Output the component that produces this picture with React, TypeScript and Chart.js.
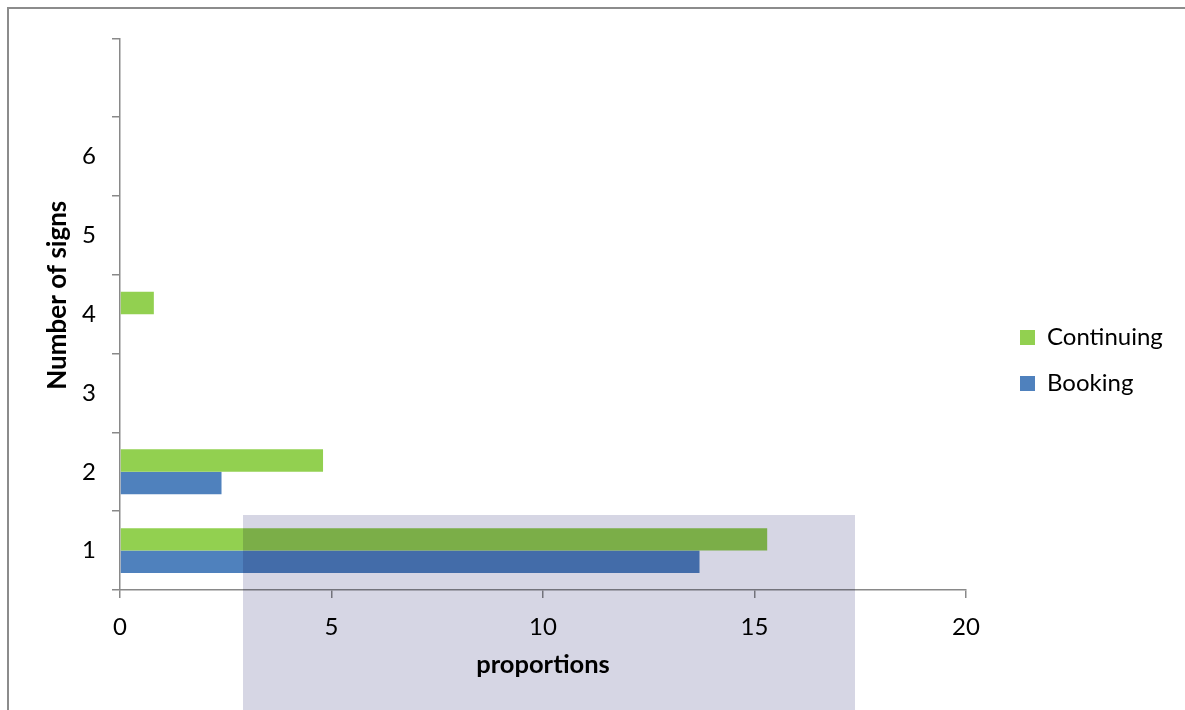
import React, { useEffect, useRef } from "react";
import { Chart, registerables } from "chart.js";

Chart.register(...registerables);

const categories = ["1", "2", "3", "4", "5", "6", ""];
const continuingValues = [15.3, 4.8, 0, 0.8, 0, 0, 0];
const bookingValues = [13.7, 2.4, 0, 0, 0, 0, 0];
const seriesNames = ["Continuing", "Booking"];
const xTickMin = 0;
const xTickMax = 20;
const xTickStep = 5;
const xTitle = "proportions";
const yTitle = "Number of signs";

const FONT = "Lato, 'Noto Sans', sans-serif";

const legendShift = {
  id: "legendShift",
  afterLayout(chart: any) {
    const lg = chart.legend;
    if (!lg) return;
    lg.left += 32;
    lg.right += 32;
    lg.top += 3;
    lg.bottom += 3;
  },
};

export default function App() {
  const canvasRef = useRef<HTMLCanvasElement | null>(null);

  useEffect(() => {
    if (!canvasRef.current) return;
    const chart = new Chart(canvasRef.current, {
      type: "bar",
      plugins: [legendShift],
      data: {
        labels: categories,
        datasets: [
          {
            label: seriesNames[0],
            data: continuingValues,
            backgroundColor: "#92D050",
            borderWidth: 0,
            categoryPercentage: 0.57,
            barPercentage: 1.0,
          },
          {
            label: seriesNames[1],
            data: bookingValues,
            backgroundColor: "#4F81BD",
            borderWidth: 0,
            categoryPercentage: 0.57,
            barPercentage: 1.0,
          },
        ],
      },
      options: {
        indexAxis: "y",
        animation: false,
        responsive: true,
        maintainAspectRatio: false,
        layout: { padding: { top: 29, left: 37, bottom: 32, right: 12 } },
        plugins: {
          legend: {
            position: "right",
            labels: {
              boxWidth: 15,
              boxHeight: 15,
              padding: 22,
              color: "#000",
              font: { family: FONT, size: 24 },
            },
          },
          tooltip: { enabled: false },
        },
        scales: {
          x: {
            type: "linear",
            min: xTickMin,
            max: xTickMax,
            afterFit: (scale: any) => {
              scale.height = 88;
              scale.paddingRight = 219;
            },
            ticks: {
              stepSize: xTickStep,
              color: "#000",
              font: { family: FONT, size: 24 },
              padding: 15,
            },
            grid: {
              drawOnChartArea: false,
              drawTicks: true,
              tickLength: 8,
              color: "#898989",
              lineWidth: 1.5,
            },
            border: { color: "#898989", width: 1.5 },
            title: {
              display: true,
              text: xTitle,
              color: "#000",
              font: { family: FONT, size: 25.5, weight: "bold", lineHeight: 1 },
              padding: { top: 0, bottom: 0 },
            },
          },
          y: {
            type: "category",
            reverse: true,
            offset: true,
            afterFit: (scale: any) => {
              scale.width = 75;
            },
            ticks: {
              color: "#000",
              font: { family: FONT, size: 24 },
              padding: 16,
            },
            grid: {
              offset: true,
              drawOnChartArea: false,
              drawTicks: true,
              tickLength: 8,
              color: "#898989",
              lineWidth: 1.5,
            },
            border: { color: "#898989", width: 1.5 },
            title: {
              display: true,
              text: "      " + yTitle,
              color: "#000",
              font: { family: FONT, size: 26, weight: "bold", lineHeight: 1 },
              padding: { top: 0, bottom: 0 },
            },
          },
        },
      },
    });
    return () => chart.destroy();
  }, []);

  return (
    <div
      style={{
        position: "fixed",
        left: 0,
        top: 0,
        width: 1185,
        height: 710,
        background: "#fff",
        overflow: "hidden",
      }}
    >
      <div
        style={{
          position: "absolute",
          left: 7,
          top: 7,
          width: 1200,
          height: 720,
          borderLeft: "2px solid #8c8c8c",
          borderTop: "2px solid #8c8c8c",
        }}
      />
      <div style={{ position: "absolute", left: 8, top: 8, width: 1177, height: 702 }}>
        <canvas ref={canvasRef} />
      </div>
      <div
        style={{
          position: "absolute",
          left: 243,
          top: 515,
          width: 612,
          height: 195,
          background: "rgb(214,214,228)",
          mixBlendMode: "multiply",
          pointerEvents: "none",
        }}
      />
    </div>
  );
}
